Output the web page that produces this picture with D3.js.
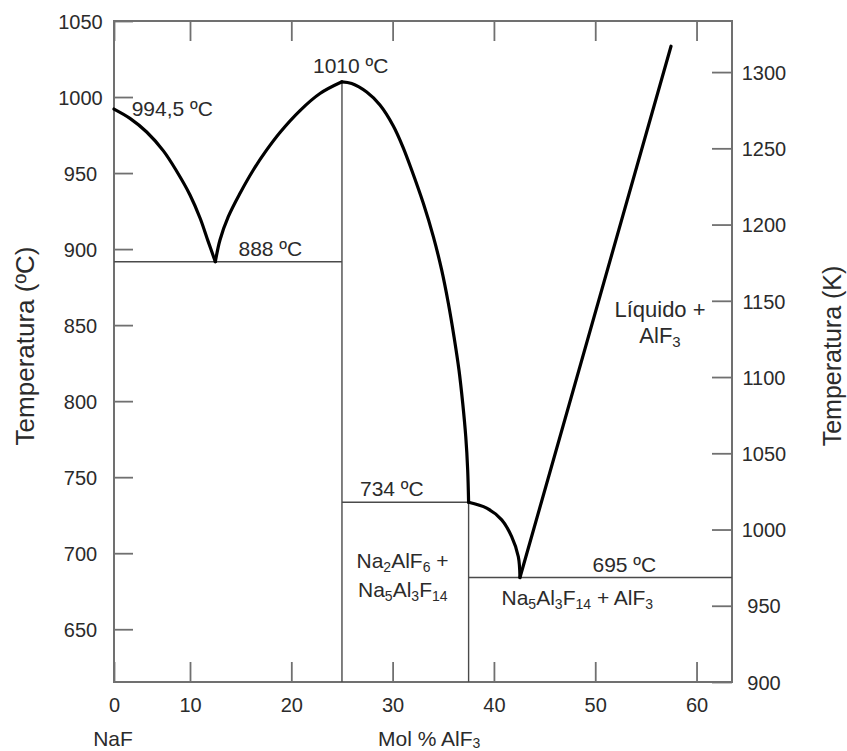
<!DOCTYPE html>
<html>
<head>
<meta charset="utf-8">
<script src="https://cdn.jsdelivr.net/npm/d3@7/dist/d3.min.js"></script>
<style>
  html, body { margin: 0; padding: 0; background: #fff; overflow: hidden; }
  svg { display: block; font-family: "Liberation Sans", Arial, Helvetica, sans-serif; }
</style>
</head>
<body>
<svg id="chart" width="847" height="751"></svg>
<script>
// ---------- data ----------
const xTicks = [0, 10, 20, 30, 40, 50, 60];
const yTicksC = [650, 700, 750, 800, 850, 900, 950, 1000, 1050];
const yTicksK = [900, 950, 1000, 1050, 1100, 1150, 1200, 1250, 1300];

// liquidus branches (mol % AlF3, °C)
const nafLiquidus = [[0, 992.1], [2.1, 986.0], [4.3, 977.0], [6.5, 964.6], [8.25, 951.2],
  [10, 935.6], [11.0, 920.3], [11.8, 904.9], [12.5, 891.7]];
const cryoliteLeft = [[12.5, 891.7], [12.96, 906.0], [13.78, 921.3], [14.94, 936.7], [16.25, 952.0],
  [17.57, 965.2], [18.88, 976.7], [20.86, 991.1], [22.83, 1002.3], [25, 1010]];
const cryoliteRight = [[25, 1010], [25.96, 1008.9], [27.44, 1003.3], [28.75, 994.8], [30.07, 981.0],
  [31.02, 967.1], [31.88, 952.0], [33.03, 930.1], [34.02, 908.2], [34.84, 886.3], [35.5, 864.4],
  [36.06, 842.4], [36.55, 820.5], [36.92, 798.6], [37.22, 776.6], [37.41, 754.7], [37.5, 733.5]];
const chioliteLiquidus = [[37.5, 733.5], [39.29, 729.6], [40.77, 721.9], [41.75, 710.9],
  [42.41, 697.7], [42.57, 684]];
const alf3Liquidus = [[42.57, 684], [57.48, 1033.4]];

// phase-boundary lines
const tieLines = [
  [[0, 891.7], [25, 891.7]],
  [[25, 1010], [25, 615.3]],
  [[25, 733.5], [37.5, 733.5]],
  [[37.5, 733.5], [37.5, 615.3]],
  [[37.5, 684], [63.5, 684]]
];

// ---------- layout ----------
const L = 114, T = 21, R = 732, B = 682;
const svg = d3.select("#chart");
const textColor = "#2b2b2b";
const frameColor = "#707070";

const x = d3.scaleLinear().domain([0, 10, 63.5]).range([L, 190, R]);
const yC = d3.scaleLinear().domain([615.3, 1050]).range([B, T]);
const yK = d3.scaleLinear().domain([900, 1333.5]).range([B, T]);

// ---------- axes (inward ticks) ----------
function styleAxis(g) {
  g.select(".domain").remove();
  g.selectAll(".tick line").attr("stroke", frameColor).attr("stroke-width", 1.8);
  g.selectAll(".tick text").attr("fill", textColor).attr("font-size", 20)
    .attr("font-family", "Liberation Sans, Arial, sans-serif");
}

svg.append("g").attr("transform", `translate(${L},0)`)
  .call(d3.axisLeft(yC).tickValues(yTicksC).tickSize(-19).tickFormat(d3.format("d")))
  .call(styleAxis)
  .call(g => g.selectAll(".tick text").attr("x", 80.5 - L).attr("text-anchor", "middle").attr("dy", "0.36em"));

svg.append("g").attr("transform", `translate(${R},0)`)
  .call(d3.axisRight(yK).tickValues(yTicksK).tickSize(-20).tickFormat(d3.format("d")))
  .call(styleAxis)
  .call(g => g.selectAll(".tick text").attr("x", 764 - R).attr("text-anchor", "middle").attr("dy", "0.36em"));

svg.append("g").attr("transform", `translate(0,${B})`)
  .call(d3.axisBottom(x).tickValues(xTicks).tickSize(-20).tickFormat(d3.format("d")))
  .call(styleAxis)
  .call(g => g.selectAll(".tick text").attr("y", 711.5 - B).attr("dy", 0).attr("text-anchor", "middle"));

svg.append("g").attr("transform", `translate(0,${T})`)
  .call(d3.axisTop(x).tickValues(xTicks).tickSize(-20).tickFormat(""))
  .call(styleAxis);

// frame
svg.append("rect").attr("x", L).attr("y", T).attr("width", R - L).attr("height", B - T)
  .attr("fill", "none").attr("stroke", frameColor).attr("stroke-width", 2);

// ---------- tie lines ----------
svg.append("g").selectAll("line").data(tieLines).join("line")
  .attr("x1", d => x(d[0][0])).attr("y1", d => yC(d[0][1]))
  .attr("x2", d => x(d[1][0])).attr("y2", d => yC(d[1][1]))
  .attr("stroke", "#4a4a4a").attr("stroke-width", 1.4);

// ---------- liquidus curves ----------
const line = d3.line().x(d => x(d[0])).y(d => yC(d[1])).curve(d3.curveCatmullRom.alpha(0.5));
svg.append("g").selectAll("path")
  .data([nafLiquidus, cryoliteLeft, cryoliteRight, chioliteLiquidus, alf3Liquidus]).join("path")
  .attr("d", line).attr("fill", "none").attr("stroke", "#000")
  .attr("stroke-width", 3.2).attr("stroke-linecap", "round").attr("stroke-linejoin", "round");

// ---------- text helper (plain parts and {sub: ".."} subscripts) ----------
function richText(px, py, parts, size, anchor, subShift) {
  const shift = subShift == null ? 4 : subShift;
  const t = svg.append("text").attr("x", px).attr("y", py).attr("font-size", size)
    .attr("fill", textColor).attr("text-anchor", anchor || "start");
  let lowered = false;
  parts.forEach(p => {
    const isSub = typeof p !== "string";
    const s = t.append("tspan").text(isSub ? p.sub : p);
    if (isSub) {
      s.attr("font-size", Math.round(size * 0.68));
      if (!lowered) { s.attr("dy", shift); lowered = true; }
    } else if (lowered) {
      s.attr("dy", -shift); lowered = false;
    }
  });
  return t;
}

// temperature annotations
richText(131.7, 116, ["994,5 ºC"], 21);
richText(313, 73, ["1010 ºC"], 21);
richText(238.5, 256, ["888 ºC"], 21);
richText(360, 495.5, ["734 ºC"], 21);
richText(592.5, 571.5, ["695 ºC"], 21);

// phase field labels
richText(356.5, 568, ["Na", {sub: "2"}, "AlF", {sub: "6"}, " +"], 21);
richText(358, 596.5, ["Na", {sub: "5"}, "Al", {sub: "3"}, "F", {sub: "14"}], 21);
richText(501.5, 605, ["Na", {sub: "5"}, "Al", {sub: "3"}, "F", {sub: "14"}, " + AlF", {sub: "3"}], 21);
richText(660, 316.5, ["Líquido +"], 22, "middle");
richText(660, 343, ["AlF", {sub: "3"}], 22, "middle");

// axis titles
richText(113, 746, ["NaF"], 21, "middle");
richText(378, 745.5, ["Mol % AlF", {sub: "3"}], 21, "start", 2);

svg.append("text").attr("transform", "translate(25,346) rotate(-90)")
  .attr("text-anchor", "middle").attr("dy", "0.35em").attr("font-size", 26)
  .attr("fill", textColor).text("Temperatura (ºC)");
svg.append("text").attr("transform", "translate(832,356) rotate(-90)")
  .attr("text-anchor", "middle").attr("dy", "0.35em").attr("font-size", 25)
  .attr("fill", textColor).text("Temperatura (K)");
</script>
</body>
</html>
